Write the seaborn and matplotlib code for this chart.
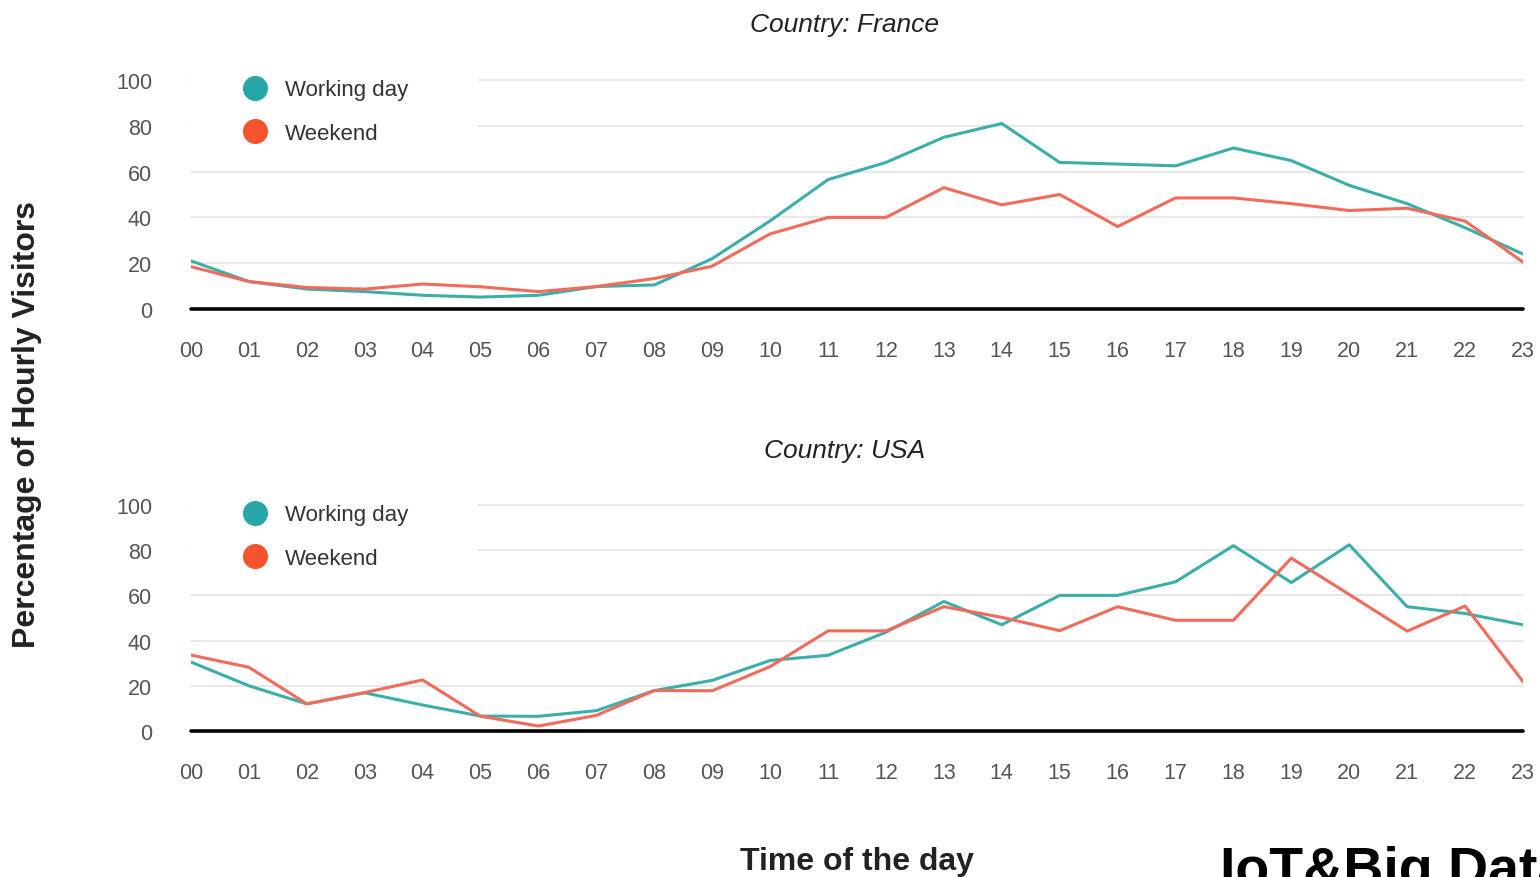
import pandas as pd
import numpy as np
import matplotlib
matplotlib.use("Agg")
import matplotlib.pyplot as plt
import seaborn as sns

# hours of the day
hours = list(range(24))
hour_labels = [f"{h:02d}" for h in hours]

# France, share of hourly visitors (%)
france_working = [21, 12, 8.7, 7.6, 6, 5.2, 6, 9.8, 10.5, 22, 38.5, 56.5,
                  64, 75, 81, 64, 63.3, 62.5, 70.3, 64.8, 54, 46, 35.5, 24]
france_weekend = [18.5, 12, 9.4, 8.7, 10.9, 9.7, 7.6, 9.8, 13.3, 18.7, 32.8, 40,
                  40, 53, 45.5, 50, 36, 48.5, 48.5, 46, 43, 44, 38.4, 20.5]

# USA, share of hourly visitors (%)
usa_working = [30.5, 20, 12, 16.9, 11.5, 6.6, 6.5, 9, 17.9, 22.4, 31.2, 33.5,
               43.7, 57.3, 47, 60, 60, 66, 82, 65.7, 82.4, 55, 52, 47]
usa_weekend = [33.6, 28.2, 12, 17, 22.6, 6.5, 2.2, 6.9, 17.9, 17.8, 28.5, 44.3,
               44.3, 55, 50.3, 44.4, 55, 49, 49, 76.5, 60.4, 44.2, 55.3, 21.9]

day_types = ["Working day", "Weekend"]
countries = ["France", "USA"]
yticks = [0, 20, 40, 60, 80, 100]

series = {
    "France": (france_working, france_weekend),
    "USA": (usa_working, usa_weekend),
}

sns.set_theme(style="white")
plt.rcParams["font.family"] = ["Liberation Sans", "DejaVu Sans"]

line_colors = {"Working day": "#3aafaa", "Weekend": "#f26a5a"}
dot_colors = {"Working day": "#26a6a8", "Weekend": "#f5522f"}

fig = plt.figure(figsize=(15.4, 8.78), dpi=100)

# axes rectangles in figure fractions (left, bottom, width, height)
W, H = 1540, 878
rects = {
    "France": (191 / W, 1 - 310 / H, (1523 - 191) / W, (310 - 81) / H),
    "USA": (191 / W, 1 - 732 / H, (1523 - 191) / W, (732 - 506) / H),
}
title_y = {"France": 1 - 25 / H, "USA": 1 - 451 / H}

for country in countries:
    ax = fig.add_axes(rects[country])
    wd, we = series[country]
    df = pd.DataFrame({
        "hour": hours * 2,
        "value": wd + we,
        "day": ["Working day"] * 24 + ["Weekend"] * 24,
    })
    sns.lineplot(data=df, x="hour", y="value", hue="day", hue_order=day_types,
                 palette=line_colors, linewidth=2.2, ax=ax, legend=False, zorder=3)

    ax.set_xlim(0, 23)
    ax.set_ylim(0, 100)
    ax.set_xticks(hours)
    ax.set_xticklabels(hour_labels)
    ax.set_yticks(yticks)
    ax.set_xlabel("")
    ax.set_ylabel("")
    for y in yticks[1:]:
        ax.axhline(y, color="#e4e4e4", linewidth=1.2, zorder=1, clip_on=False)
    ax.axhline(0, color="black", linewidth=2.6, zorder=4, clip_on=False)
    for s in ax.spines.values():
        s.set_visible(False)
    ax.tick_params(axis="both", length=0, labelsize=15.5, colors="#555555")
    ax.tick_params(axis="x", pad=22)
    ax.tick_params(axis="y", pad=28)

    # white block behind the legend hides the top grid lines, as in the source
    ax.add_patch(plt.Rectangle((0, 0.63), 0.2155, 0.45, transform=ax.transAxes,
                               facecolor="white", edgecolor="none", zorder=2,
                               clip_on=False))

    # legend with round dots
    handles = [plt.Line2D([], [], marker="o", linestyle="", markersize=17,
                          markerfacecolor=dot_colors[d], markeredgecolor=dot_colors[d])
               for d in day_types]
    leg = ax.legend(handles, day_types, loc="upper left", bbox_to_anchor=(0.040, 1.003),
                    frameon=False, fontsize=16, labelcolor="#333333",
                    handletextpad=0.85, labelspacing=1.0, borderpad=0,
                    borderaxespad=0, handlelength=1.0)
    leg.set_zorder(5)

    fig.text(845 / W, title_y[country], f"Country: {country}", ha="center", va="center",
             fontsize=19, style="italic", color="#222222")

fig.text(27 / W, 1 - 425 / H, "Percentage of Hourly Visitors", rotation=90,
         ha="center", va="center", fontsize=23, fontweight="bold", color="#222222")
fig.text(857 / W, 1 - 862 / H, "Time of the day", ha="center", va="center",
         fontsize=23, fontweight="bold", color="#222222")
fig.text(1220 / W, 1 - 846 / H, "IoT&Big Data", ha="left", va="top",
         fontsize=40, fontweight="heavy", color="black")

fig.savefig("out.png", dpi=100, facecolor="white")
